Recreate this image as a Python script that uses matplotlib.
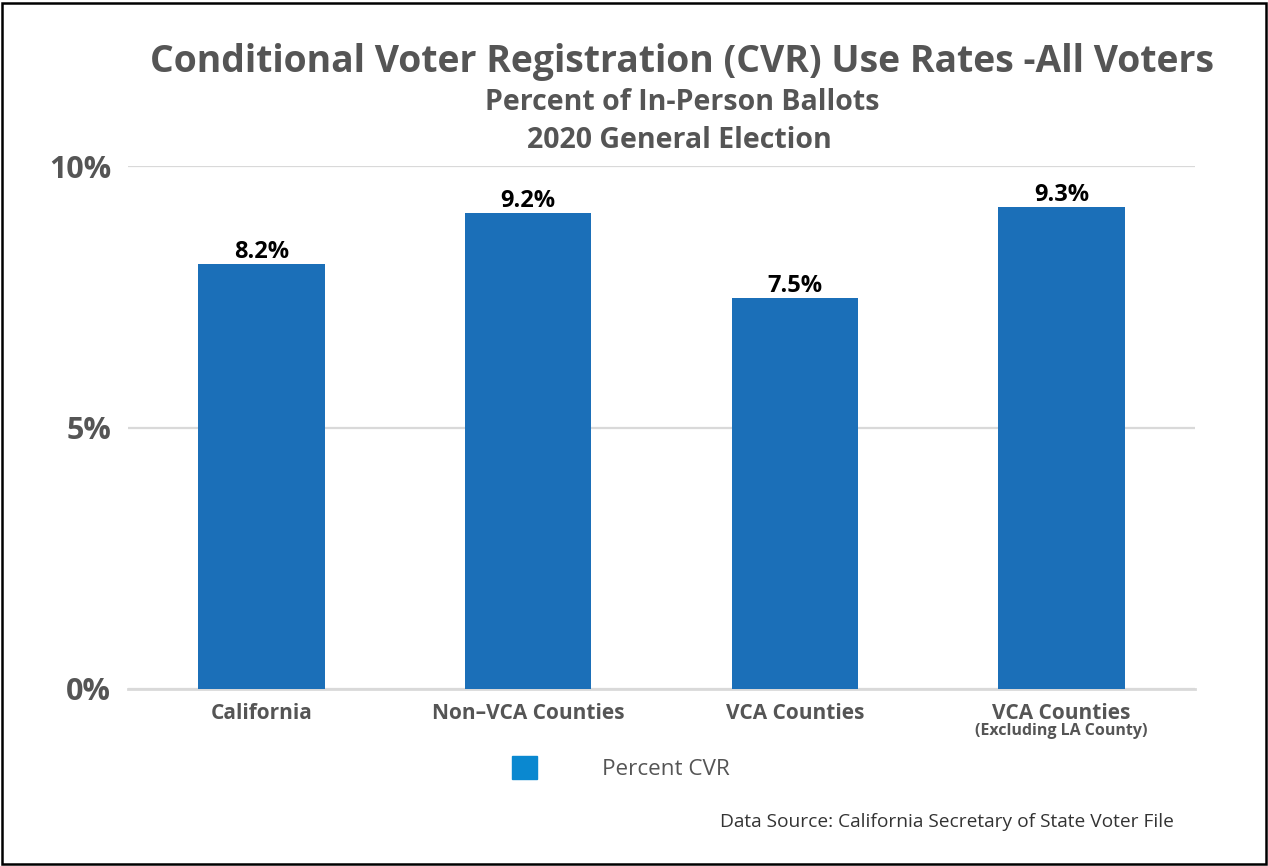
import matplotlib.pyplot as plt
from matplotlib.patches import Patch, Rectangle

categories = ["California", "Non\u2013VCA Counties", "VCA Counties", "VCA Counties"]
sublabels = ["", "", "", "(Excluding LA County)"]
cvr_rates = [8.13, 9.10, 7.48, 9.22]
value_labels = ["8.2%", "9.2%", "7.5%", "9.3%"]
y_ticks = [0, 5, 10]
y_tick_labels = ["0%", "5%", "10%"]

W, H = 1268, 866
plt.rcParams['font.family'] = ['Open Sans', 'DejaVu Sans']
gray = '#555555'

fig = plt.figure(figsize=(W / 100, H / 100), dpi=100)
fig.patches.append(Rectangle((2 / W, 2 / H), 1 - 4 / W, 1 - 5 / H, transform=fig.transFigure,
                             fill=False, edgecolor='black', linewidth=1.8))

def fx(px):
    return px / W

def fy(py):
    return 1 - py / H

ax = fig.add_axes([fx(128), fy(689), fx(1195) - fx(128), fy(166) - fy(689)])
x = range(len(categories))
bars = ax.bar(x, cvr_rates, width=0.475, color='#1b6fb8', zorder=3)
for b, lab in zip(bars, value_labels):
    ax.text(b.get_x() + b.get_width() / 2, b.get_height(), lab, ha='center', va='bottom',
            fontsize=17, fontweight='bold', color='black')

ax.set_xlim(-0.5, 3.5)
ax.set_ylim(0, 10)
ax.set_yticks(y_ticks)
ax.set_yticklabels(y_tick_labels, fontsize=22, fontweight='bold', color=gray)
ax.yaxis.grid(True, color='#d9d9d9', linewidth=1.6, zorder=0)
ax.tick_params(axis='y', length=0, pad=12)
ax.set_xticks(list(x))
ax.set_xticklabels(categories, fontsize=15, fontweight='bold', color=gray)
ax.tick_params(axis='x', length=0, pad=10)
for i, s in enumerate(sublabels):
    if s:
        ax.annotate(s, xy=(i, 0), xycoords='data', xytext=(0, -30), textcoords='offset points',
                    ha='center', va='center', fontsize=11.5, fontweight='bold', color=gray)
for sp in ['top', 'right', 'left']:
    ax.spines[sp].set_visible(False)
ax.spines['bottom'].set_color('#d9d9d9')
ax.spines['bottom'].set_linewidth(2)

fig.text(fx(682), fy(62), "Conditional Voter Registration (CVR) Use Rates -All Voters",
         ha='center', va='center', fontsize=26.9, fontweight='bold', color=gray)
fig.text(fx(682), fy(103), "Percent of In-Person Ballots",
         ha='center', va='center', fontsize=20.5, fontweight='bold', color=gray)
fig.text(fx(679), fy(141), "2020 General Election",
         ha='center', va='center', fontsize=20.5, fontweight='bold', color=gray)

leg = fig.legend(handles=[Patch(color='#0a88d0', label='Percent CVR')], loc='center left',
                 bbox_to_anchor=(fx(492), fy(768)), frameon=False, fontsize=16.2,
                 handlelength=1.1, handleheight=1.2, handletextpad=2.9)
for t in leg.get_texts():
    t.set_color(gray)

fig.text(fx(1174), fy(822), "Data Source: California Secretary of State Voter File",
         ha='right', va='center', fontsize=13.75, color='#333333')

fig.savefig('out.png', dpi=100)
